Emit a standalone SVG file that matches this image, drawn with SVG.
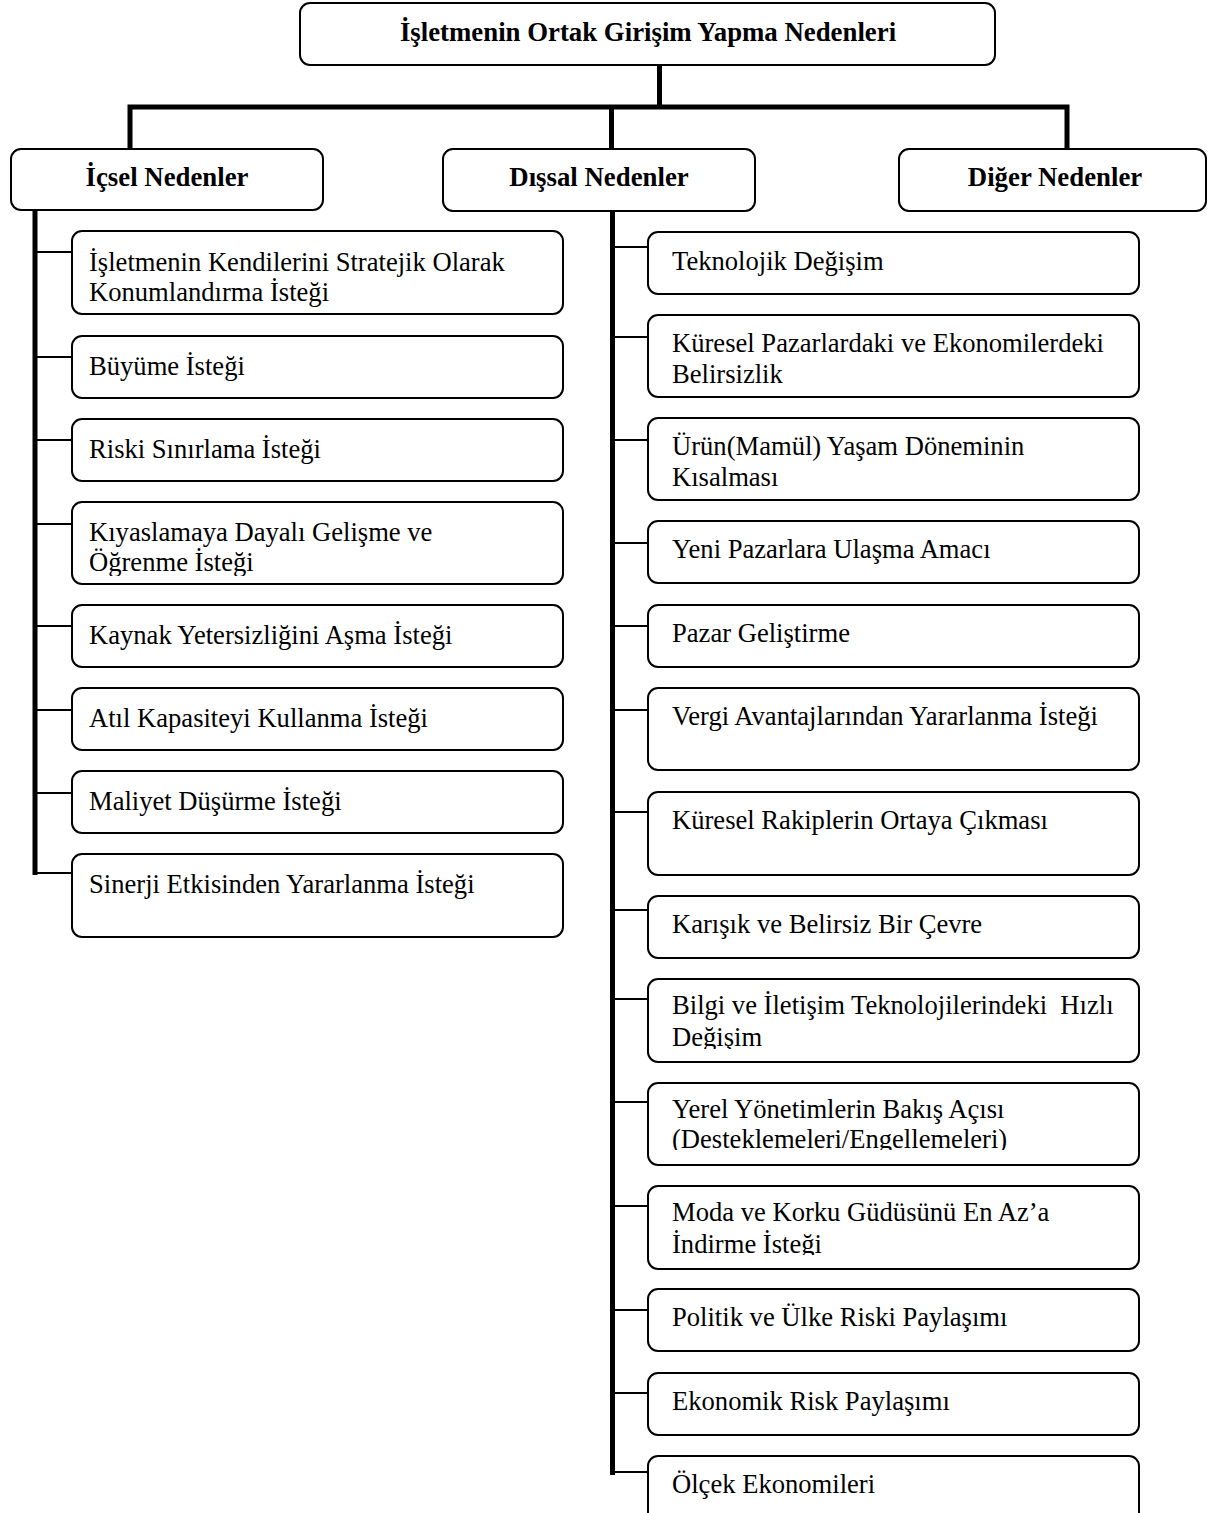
<svg xmlns="http://www.w3.org/2000/svg" width="1208" height="1513" viewBox="0 0 1208 1513">
  <style>
    .box { fill: #ffffff; stroke: #000000; stroke-width: 2; }
    .head { font-family: "Liberation Serif", "Times New Roman", serif; font-size: 26.8px; font-weight: bold; fill: #000000; text-anchor: middle; }
    .item { font-family: "Liberation Serif", "Times New Roman", serif; font-size: 26.6px; fill: #000000; }
    .trunk { stroke: #000000; stroke-width: 5; fill: none; }
    .branch { stroke: #000000; stroke-width: 2; fill: none; }
  </style>
  <defs>
    <clipPath id="clip-kiyas"><rect x="72" y="502" width="491" height="74"/></clipPath>
    <clipPath id="clip-bilgi"><rect x="648" y="979" width="491" height="70"/></clipPath>
    <clipPath id="clip-yerel"><rect x="648" y="1083" width="491" height="67"/></clipPath>
    <clipPath id="clip-moda"><rect x="648" y="1186" width="491" height="69"/></clipPath>
  </defs>
  <rect width="1208" height="1513" fill="#ffffff"/>

  <!-- connectors -->
  <g id="connectors">
    <!-- root to level 2 -->
    <path class="trunk" d="M659.5 65 V107"/>
    <path class="trunk" d="M130 149 V107 H1067 V149"/>
    <path class="trunk" d="M611.5 107 V149"/>
    <!-- internal reasons spine -->
    <path class="trunk" d="M35 210 V875"/>
    <path class="branch" d="M35 252 H72"/>
    <path class="branch" d="M35 357 H72"/>
    <path class="branch" d="M35 440 H72"/>
    <path class="branch" d="M35 524 H72"/>
    <path class="branch" d="M35 626 H72"/>
    <path class="branch" d="M35 710 H72"/>
    <path class="branch" d="M35 793 H72"/>
    <path class="branch" d="M35 873 H72"/>
    <!-- external reasons spine -->
    <path class="trunk" d="M612.5 211 V1475"/>
    <path class="branch" d="M612 247 H648"/>
    <path class="branch" d="M612 337 H648"/>
    <path class="branch" d="M612 440 H648"/>
    <path class="branch" d="M612 543 H648"/>
    <path class="branch" d="M612 626 H648"/>
    <path class="branch" d="M612 710 H648"/>
    <path class="branch" d="M612 812 H648"/>
    <path class="branch" d="M612 910 H648"/>
    <path class="branch" d="M612 999 H648"/>
    <path class="branch" d="M612 1102 H648"/>
    <path class="branch" d="M612 1206 H648"/>
    <path class="branch" d="M612 1310 H648"/>
    <path class="branch" d="M612 1393 H648"/>
    <path class="branch" d="M612 1472 H648"/>
  </g>

  <!-- root -->
  <g id="root">
    <rect class="box" x="300" y="3" width="695" height="62" rx="10"/>
    <text class="head" x="648" y="41">İşletmenin Ortak Girişim Yapma Nedenleri</text>
  </g>

  <!-- level 2 -->
  <g id="icsel">
    <rect class="box" x="11" y="149" width="312" height="61" rx="10"/>
    <text class="head" x="167" y="186">İçsel Nedenler</text>
  </g>
  <g id="dissal">
    <rect class="box" x="443" y="149" width="312" height="62" rx="10"/>
    <text class="head" x="599" y="186">Dışsal Nedenler</text>
  </g>
  <g id="diger">
    <rect class="box" x="899" y="149" width="307" height="62" rx="10"/>
    <text class="head" x="1055" y="186">Diğer Nedenler</text>
  </g>

  <!-- internal reasons -->
  <g id="ic-1">
    <rect class="box" x="72" y="231" width="491" height="83" rx="10"/>
    <text class="item" x="89" y="271">İşletmenin Kendilerini Stratejik Olarak</text>
    <text class="item" x="89" y="301">Konumlandırma İsteği</text>
  </g>
  <g id="ic-2">
    <rect class="box" x="72" y="336" width="491" height="62" rx="10"/>
    <text class="item" x="89" y="375">Büyüme İsteği</text>
  </g>
  <g id="ic-3">
    <rect class="box" x="72" y="419" width="491" height="62" rx="10"/>
    <text class="item" x="89" y="458">Riski Sınırlama İsteği</text>
  </g>
  <g id="ic-4">
    <rect class="box" x="72" y="502" width="491" height="82" rx="10"/>
    <g clip-path="url(#clip-kiyas)">
      <text class="item" x="89" y="541">Kıyaslamaya Dayalı Gelişme ve</text>
      <text class="item" x="89" y="571">Öğrenme İsteği</text>
    </g>
  </g>
  <g id="ic-5">
    <rect class="box" x="72" y="605" width="491" height="62" rx="10"/>
    <text class="item" x="89" y="644">Kaynak Yetersizliğini Aşma İsteği</text>
  </g>
  <g id="ic-6">
    <rect class="box" x="72" y="688" width="491" height="62" rx="10"/>
    <text class="item" x="89" y="727">Atıl Kapasiteyi Kullanma İsteği</text>
  </g>
  <g id="ic-7">
    <rect class="box" x="72" y="771" width="491" height="62" rx="10"/>
    <text class="item" x="89" y="810">Maliyet Düşürme İsteği</text>
  </g>
  <g id="ic-8">
    <rect class="box" x="72" y="854" width="491" height="83" rx="10"/>
    <text class="item" x="89" y="893">Sinerji Etkisinden Yararlanma İsteği</text>
  </g>

  <!-- external reasons -->
  <g id="dis-1">
    <rect class="box" x="648" y="232" width="491" height="62" rx="10"/>
    <text class="item" x="672" y="270">Teknolojik Değişim</text>
  </g>
  <g id="dis-2">
    <rect class="box" x="648" y="315" width="491" height="82" rx="10"/>
    <text class="item" x="672" y="352">Küresel Pazarlardaki ve Ekonomilerdeki</text>
    <text class="item" x="672" y="383">Belirsizlik</text>
  </g>
  <g id="dis-3">
    <rect class="box" x="648" y="418" width="491" height="82" rx="10"/>
    <text class="item" x="672" y="455">Ürün(Mamül) Yaşam Döneminin</text>
    <text class="item" x="672" y="486">Kısalması</text>
  </g>
  <g id="dis-4">
    <rect class="box" x="648" y="521" width="491" height="62" rx="10"/>
    <text class="item" x="672" y="558">Yeni Pazarlara Ulaşma Amacı</text>
  </g>
  <g id="dis-5">
    <rect class="box" x="648" y="605" width="491" height="62" rx="10"/>
    <text class="item" x="672" y="642">Pazar Geliştirme</text>
  </g>
  <g id="dis-6">
    <rect class="box" x="648" y="688" width="491" height="82" rx="10"/>
    <text class="item" x="672" y="725">Vergi Avantajlarından Yararlanma İsteği</text>
  </g>
  <g id="dis-7">
    <rect class="box" x="648" y="792" width="491" height="83" rx="10"/>
    <text class="item" x="672" y="829">Küresel Rakiplerin Ortaya Çıkması</text>
  </g>
  <g id="dis-8">
    <rect class="box" x="648" y="896" width="491" height="62" rx="10"/>
    <text class="item" x="672" y="933">Karışık ve Belirsiz Bir Çevre</text>
  </g>
  <g id="dis-9">
    <rect class="box" x="648" y="979" width="491" height="83" rx="10"/>
    <g clip-path="url(#clip-bilgi)">
      <text class="item" x="672" y="1014" xml:space="preserve">Bilgi ve İletişim Teknolojilerindeki  Hızlı</text>
      <text class="item" x="672" y="1046">Değişim</text>
    </g>
  </g>
  <g id="dis-10">
    <rect class="box" x="648" y="1083" width="491" height="82" rx="10"/>
    <g clip-path="url(#clip-yerel)">
      <text class="item" x="672" y="1118">Yerel Yönetimlerin Bakış Açısı</text>
      <text class="item" x="672" y="1148">(Desteklemeleri/Engellemeleri)</text>
    </g>
  </g>
  <g id="dis-11">
    <rect class="box" x="648" y="1186" width="491" height="83" rx="10"/>
    <g clip-path="url(#clip-moda)">
      <text class="item" x="672" y="1221">Moda ve Korku Güdüsünü En Az’a</text>
      <text class="item" x="672" y="1253">İndirme İsteği</text>
    </g>
  </g>
  <g id="dis-12">
    <rect class="box" x="648" y="1289" width="491" height="62" rx="10"/>
    <text class="item" x="672" y="1326">Politik ve Ülke Riski Paylaşımı</text>
  </g>
  <g id="dis-13">
    <rect class="box" x="648" y="1373" width="491" height="62" rx="10"/>
    <text class="item" x="672" y="1410">Ekonomik Risk Paylaşımı</text>
  </g>
  <g id="dis-14">
    <rect class="box" x="648" y="1456" width="491" height="80" rx="10"/>
    <text class="item" x="672" y="1493">Ölçek Ekonomileri</text>
  </g>
</svg>
